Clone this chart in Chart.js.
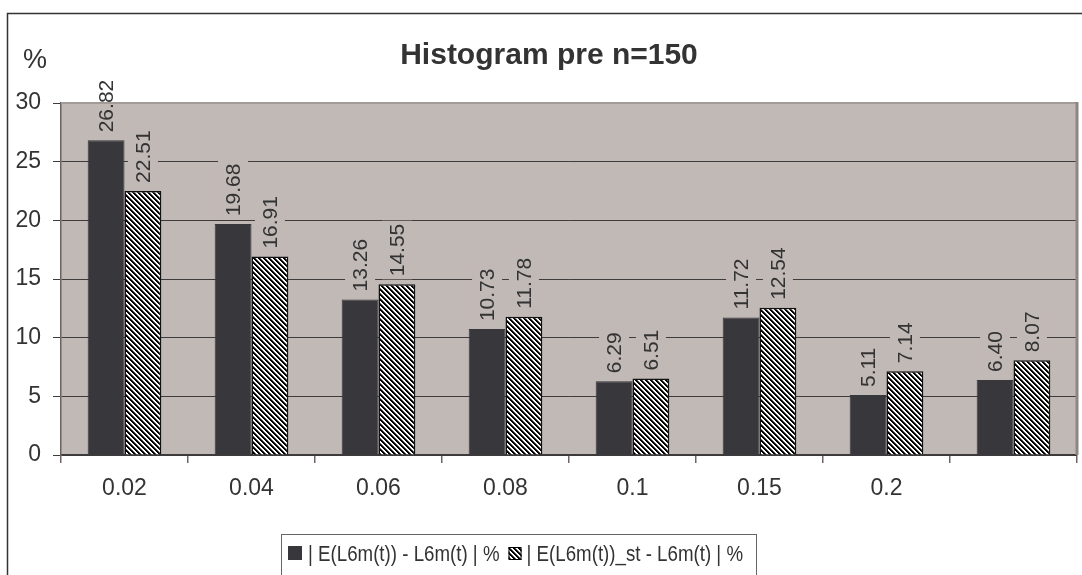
<!DOCTYPE html>
<html>
<head>
<meta charset="utf-8">
<script src="https://cdn.jsdelivr.net/npm/chart.js@4/dist/chart.umd.min.js"></script>
<style>
  html, body { margin: 0; padding: 0; background: #ffffff; }
  #wrap { width: 1082px; height: 575px; }
</style>
</head>
<body>
<div id="wrap"><canvas id="c" width="1082" height="575"></canvas></div>
<script>
// Category labels (last group has no label)
const categories = ['0.02', '0.04', '0.06', '0.08', '0.1', '0.15', '0.2', ''];
// Series values in %
const seriesPlain = [26.82, 19.68, 13.26, 10.73, 6.29, 11.72, 5.11, 6.40];
const seriesSt    = [22.51, 16.91, 14.55, 11.78, 6.51, 12.54, 7.14, 8.07];
const seriesNames = ['| E(L6m(t)) - L6m(t) | %', '| E(L6m(t))_st - L6m(t) | %'];
const titleText = 'Histogram pre n=150';
const unitText = '%';

const FONT = '"Liberation Sans", Arial, Helvetica, sans-serif';
const PLOT_BG = '#c1b9b6';
const DARK = '#38373c';
const TEXT = '#333333';

// Diagonal (downward) black/white hatch
function makeHatch() {
  const n = 10, period = 5;
  const cv = document.createElement('canvas');
  cv.width = n; cv.height = n;
  const cx = cv.getContext('2d');
  const img = cx.createImageData(n, n);
  for (let y = 0; y < n; y++) {
    for (let x = 0; x < n; x++) {
      const k = (((x - y) % period) + period) % period;
      const v = k < 2 ? 0 : (k === 2 ? 90 : 255);
      const i = (y * n + x) * 4;
      img.data[i] = v; img.data[i + 1] = v; img.data[i + 2] = v; img.data[i + 3] = 255;
    }
  }
  cx.putImageData(img, 0, 0);
  return document.getElementById('c').getContext('2d').createPattern(cv, 'repeat');
}
const hatch = makeHatch();

// Text drawn slightly narrowed horizontally
function narrowText(ctx, txt, x, y, sx) {
  ctx.save();
  ctx.translate(x, y);
  ctx.scale(sx, 1);
  ctx.fillText(txt, 0, 0);
  ctx.restore();
  return ctx.measureText(txt).width * sx;
}

// Frame, plot background, title, unit label and legend
const decor = {
  id: 'decor',
  beforeDraw(chart) {
    const { ctx, chartArea: a } = chart;
    ctx.save();
    ctx.fillStyle = '#ffffff';
    ctx.fillRect(0, 0, chart.width, chart.height);
    ctx.strokeStyle = '#333333';
    ctx.lineWidth = 1.5;
    ctx.strokeRect(7.5, 13.5, 1200, 700);
    ctx.fillStyle = PLOT_BG;
    ctx.fillRect(a.left, a.top, a.right - a.left, a.bottom - a.top);
    ctx.restore();
  },
  afterDraw(chart) {
    const { ctx, chartArea: a } = chart;
    ctx.save();
    // plot frame: top and right edges
    ctx.strokeStyle = '#a39b98';
    ctx.lineWidth = 2;
    ctx.beginPath();
    ctx.moveTo(a.left, a.top);
    ctx.lineTo(a.right, a.top);
    ctx.stroke();
    ctx.strokeStyle = '#8e8683';
    ctx.lineWidth = 3;
    ctx.beginPath();
    ctx.moveTo(a.right, a.top - 1);
    ctx.lineTo(a.right, a.bottom);
    ctx.stroke();

    // title
    ctx.fillStyle = TEXT;
    ctx.font = 'bold 30px ' + FONT;
    ctx.textAlign = 'center';
    ctx.textBaseline = 'alphabetic';
    ctx.fillText(titleText, 549, 64);

    // unit label
    ctx.font = '27px ' + FONT;
    ctx.textAlign = 'left';
    ctx.fillText(unitText, 23, 68);

    // legend
    ctx.strokeStyle = '#666666';
    ctx.lineWidth = 1;
    ctx.fillStyle = '#ffffff';
    ctx.fillRect(281.5, 534.5, 475, 60);
    ctx.strokeRect(281.5, 534.5, 475, 60);
    ctx.font = '22px ' + FONT;
    ctx.textBaseline = 'alphabetic';
    ctx.fillStyle = DARK;
    ctx.fillRect(288, 546, 14, 14);
    ctx.fillStyle = TEXT;
    const w0 = narrowText(ctx, seriesNames[0], 308, 561, 0.85);
    const sx = 308 + w0 + 9;
    ctx.fillStyle = hatch;
    ctx.fillRect(sx, 547, 13, 13);
    ctx.strokeStyle = '#000000';
    ctx.strokeRect(sx + 0.5, 547.5, 12, 12);
    ctx.fillStyle = TEXT;
    narrowText(ctx, seriesNames[1], sx + 18, 561, 0.85);
    ctx.restore();
  }
};

// Rotated value labels above the bars, on a plot-coloured backing
const valueLabels = {
  id: 'valueLabels',
  afterDatasetsDraw(chart) {
    const { ctx, chartArea: a } = chart;
    ctx.save();
    ctx.font = '21px ' + FONT;
    chart.data.datasets.forEach((ds, di) => {
      const meta = chart.getDatasetMeta(di);
      meta.data.forEach((el, i) => {
        const txt = Number(ds.data[i]).toFixed(2);
        const w = ctx.measureText(txt).width;
        // backing, limited to the plot area
        ctx.save();
        ctx.beginPath();
        ctx.rect(a.left, a.top + 1, a.right - a.left, a.bottom - a.top);
        ctx.clip();
        ctx.fillStyle = PLOT_BG;
        ctx.fillRect(el.x - 15, el.y - 8 - w - 3, 30, w + 6);
        ctx.restore();
        ctx.save();
        ctx.translate(el.x, el.y - 8);
        ctx.rotate(-Math.PI / 2);
        ctx.fillStyle = TEXT;
        ctx.textAlign = 'left';
        ctx.textBaseline = 'middle';
        ctx.fillText(txt, 0, 1);
        ctx.restore();
      });
    });
    ctx.restore();
  }
};

new Chart(document.getElementById('c'), {
  type: 'bar',
  data: {
    labels: categories,
    datasets: [
      {
        label: seriesNames[0],
        data: seriesPlain,
        backgroundColor: DARK,
        borderColor: DARK,
        borderWidth: 1,
        categoryPercentage: 0.58,
        barPercentage: 1.0
      },
      {
        label: seriesNames[1],
        data: seriesSt,
        backgroundColor: hatch,
        borderColor: '#111111',
        borderWidth: 1.5,
        categoryPercentage: 0.58,
        barPercentage: 1.0
      }
    ]
  },
  options: {
    responsive: false,
    animation: false,
    devicePixelRatio: 1,
    layout: { padding: { left: 0, top: 103, right: 5, bottom: 0 } },
    plugins: {
      legend: { display: false },
      title: { display: false },
      tooltip: { enabled: false }
    },
    scales: {
      x: {
        offset: true,
        grid: {
          offset: true,
          drawOnChartArea: false,
          drawTicks: true,
          tickLength: 8,
          tickColor: '#6e6664',
          lineWidth: 1.5
        },
        border: { color: '#3d3b3b', width: 1.5 },
        ticks: {
          color: TEXT,
          font: { family: FONT, size: 23 },
          padding: 12,
          maxRotation: 0
        },
        afterFit(scale) { scale.height = 120; }
      },
      y: {
        min: 0,
        max: 30,
        ticks: {
          stepSize: 5,
          color: TEXT,
          font: { family: FONT, size: 23 },
          padding: 12
        },
        grid: {
          color: (c) => (c.tick && c.tick.value === 30 ? 'rgba(0,0,0,0)' : '#3d3b3b'),
          tickColor: '#3d3b3b',
          tickLength: 8,
          lineWidth: 1
        },
        border: { color: '#6b6361', width: 1.5 },
        afterFit(scale) { scale.width = 61; }
      }
    }
  },
  plugins: [decor, valueLabels]
});
</script>
</body>
</html>
